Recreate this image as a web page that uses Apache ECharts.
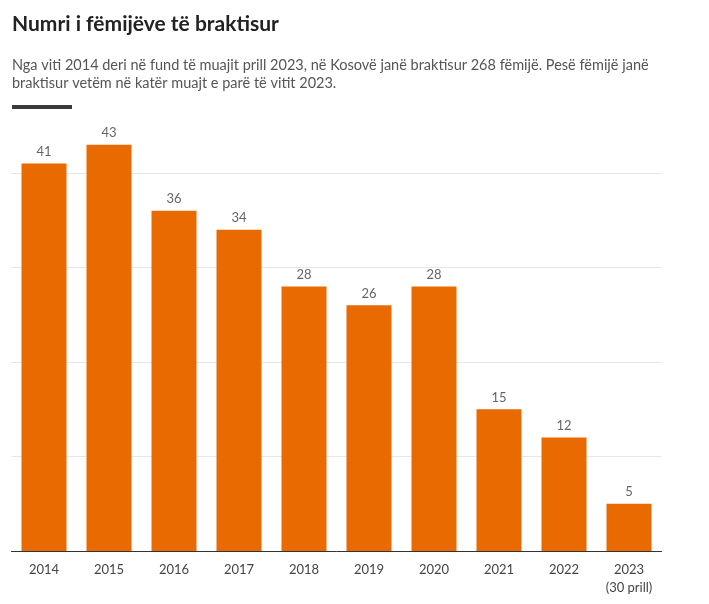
<!DOCTYPE html>
<html><head><meta charset="utf-8">
<script src="https://cdn.jsdelivr.net/npm/echarts@6/dist/echarts.min.js"></script>
<style>body{margin:0;background:#fff}#c{width:709px;height:604px}</style>
</head><body><div id="c"></div>
<script>
var years = ["2014","2015","2016","2017","2018","2019","2020","2021","2022","2023\n(30 prill)"];
var counts = [41, 43, 36, 34, 28, 26, 28, 15, 12, 5];

var chart = echarts.init(document.getElementById("c"));
chart.setOption({
    textStyle: {fontFamily: "Lato"},
    graphic: [
        {type: "text", left: 12, top: 14, style: {text: "Numri i fëmijëve të braktisur", font: "bold 21px Lato", fill: "#222"}},
        {type: "text", left: 12, top: 56, style: {text: "Nga viti 2014 deri në fund të muajit prill 2023, në Kosovë janë braktisur 268 fëmijë. Pesë fëmijë janë\nbraktisur vetëm në katër muajt e parë të vitit 2023.", font: "14.5px Lato", fill: "#555", lineHeight: 18}},
        {type: "rect", left: 12, top: 105, shape: {width: 60, height: 4}, style: {fill: "#3a3a3a"}}
    ],
    grid: {left: 11.5, right: 47.5, top: 173, bottom: 53},
    xAxis: {
        type: "category",
        data: years,
        axisLine: {lineStyle: {color: "#333"}},
        axisTick: {show: false},
        axisLabel: {color: "#444", fontSize: 13, margin: 10, lineHeight: 18}
    },
    yAxis: {
        type: "value", min: 0, max: 40, interval: 10,
        axisLabel: {show: false},
        splitLine: {lineStyle: {color: "#e6e6e6"}}
    },
    series: [{
        type: "bar",
        data: counts,
        barWidth: 45,
        clip: false,
        itemStyle: {color: "#E96A00"},
        label: {show: true, position: "top", color: "#666", fontSize: 13}
    }]
});
</script></body></html>
